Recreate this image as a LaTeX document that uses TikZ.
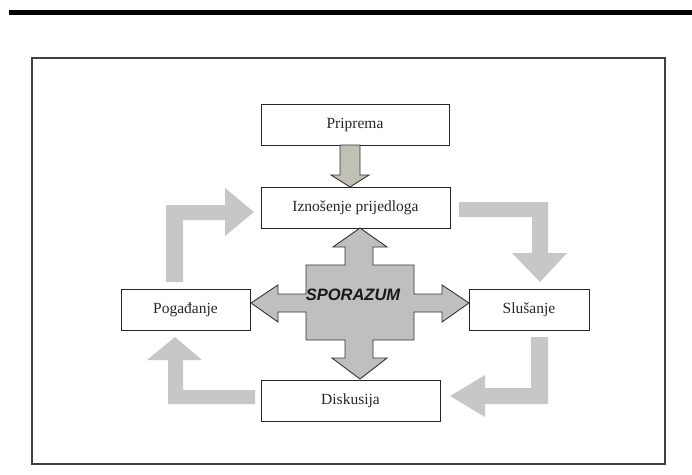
\documentclass[tikz,border=0pt]{standalone}
\usepackage{fontspec}
\setmainfont{Liberation Serif}
\newfontfamily\sporfont{Liberation Sans}

\begin{document}
\begin{tikzpicture}[x=1pt,y=-1pt,
  box/.style={draw=black!85,line width=0.9pt,fill=white,inner sep=0pt,minimum height=41pt,text=black!85,font=\fontsize{15.5}{18}\selectfont},
  bent/.style={fill=black!22,draw=none},
  block/.style={fill=black!25,draw=black!80,line width=0.9pt,line join=miter}]
\useasboundingbox (0,0) rectangle (692,474);

% top rule and frame
\fill[black] (9,10) rectangle (692,15);
\draw[black!75,line width=1.2pt] (32,58) rectangle (665,464);

% light bent arrows (clockwise)
\fill[bent] (459,202)--(548,202)--(548,253)--(567,253)--(540,282)--(512,253)--(532,253)--(532,217)--(459,217)--cycle;
\fill[bent] (531,337)--(548,337)--(548,404)--(485,404)--(485,417)--(450,396)--(485,375)--(485,388)--(531,388)--cycle;
\fill[bent] (255,390)--(255,404)--(168,404)--(168,360)--(147,360)--(175,337)--(202,360)--(183,360)--(183,390)--cycle;
\fill[bent] (166,282)--(166,205)--(225,205)--(225,188)--(254,212)--(225,236)--(225,220)--(183,220)--(183,282)--cycle;

% boxes
\node[box,minimum width=188pt] (pri) at (355,125) {Priprema};
\node[box,minimum width=189pt] (izn) at (355.5,207.5) {Iznošenje prijedloga};
\node[box,minimum width=129pt] (pog) at (185.5,310) {Pogađanje};
\node[box,minimum width=120pt] (slu) at (529,309.5) {Slušanje};
\node[box,minimum width=179pt] (dis) at (350.5,400.5) {Diskusija};

% arrow Priprema -> Iznosenje
\draw[block,fill={rgb,255:red,192;green,192;blue,180}] (340,145)--(360,145)--(360,175)--(369,175)--(350,187)--(331,175)--(340,175)--cycle;

% central cross
\draw[block] (306,265)--(345,265)--(345,247)--(333,247)--(360,228)--(387,247)--(373,247)--(373,265)
  --(414,265)--(414,294)--(442,294)--(442,285)--(469,303)--(442,322)--(442,312)--(414,312)
  --(414,340)--(373,340)--(373,358)--(387,358)--(360,379)--(332,358)--(345,358)--(345,340)
  --(306,340)--(306,312)--(278,312)--(278,322)--(251,303)--(278,285)--(278,294)--(306,294)--cycle;
\node[font=\sporfont\bfseries\itshape\fontsize{16.5}{19}\selectfont,text=black!90] (spo) at (353,295) {SPORAZUM};

\end{tikzpicture}
\end{document}
